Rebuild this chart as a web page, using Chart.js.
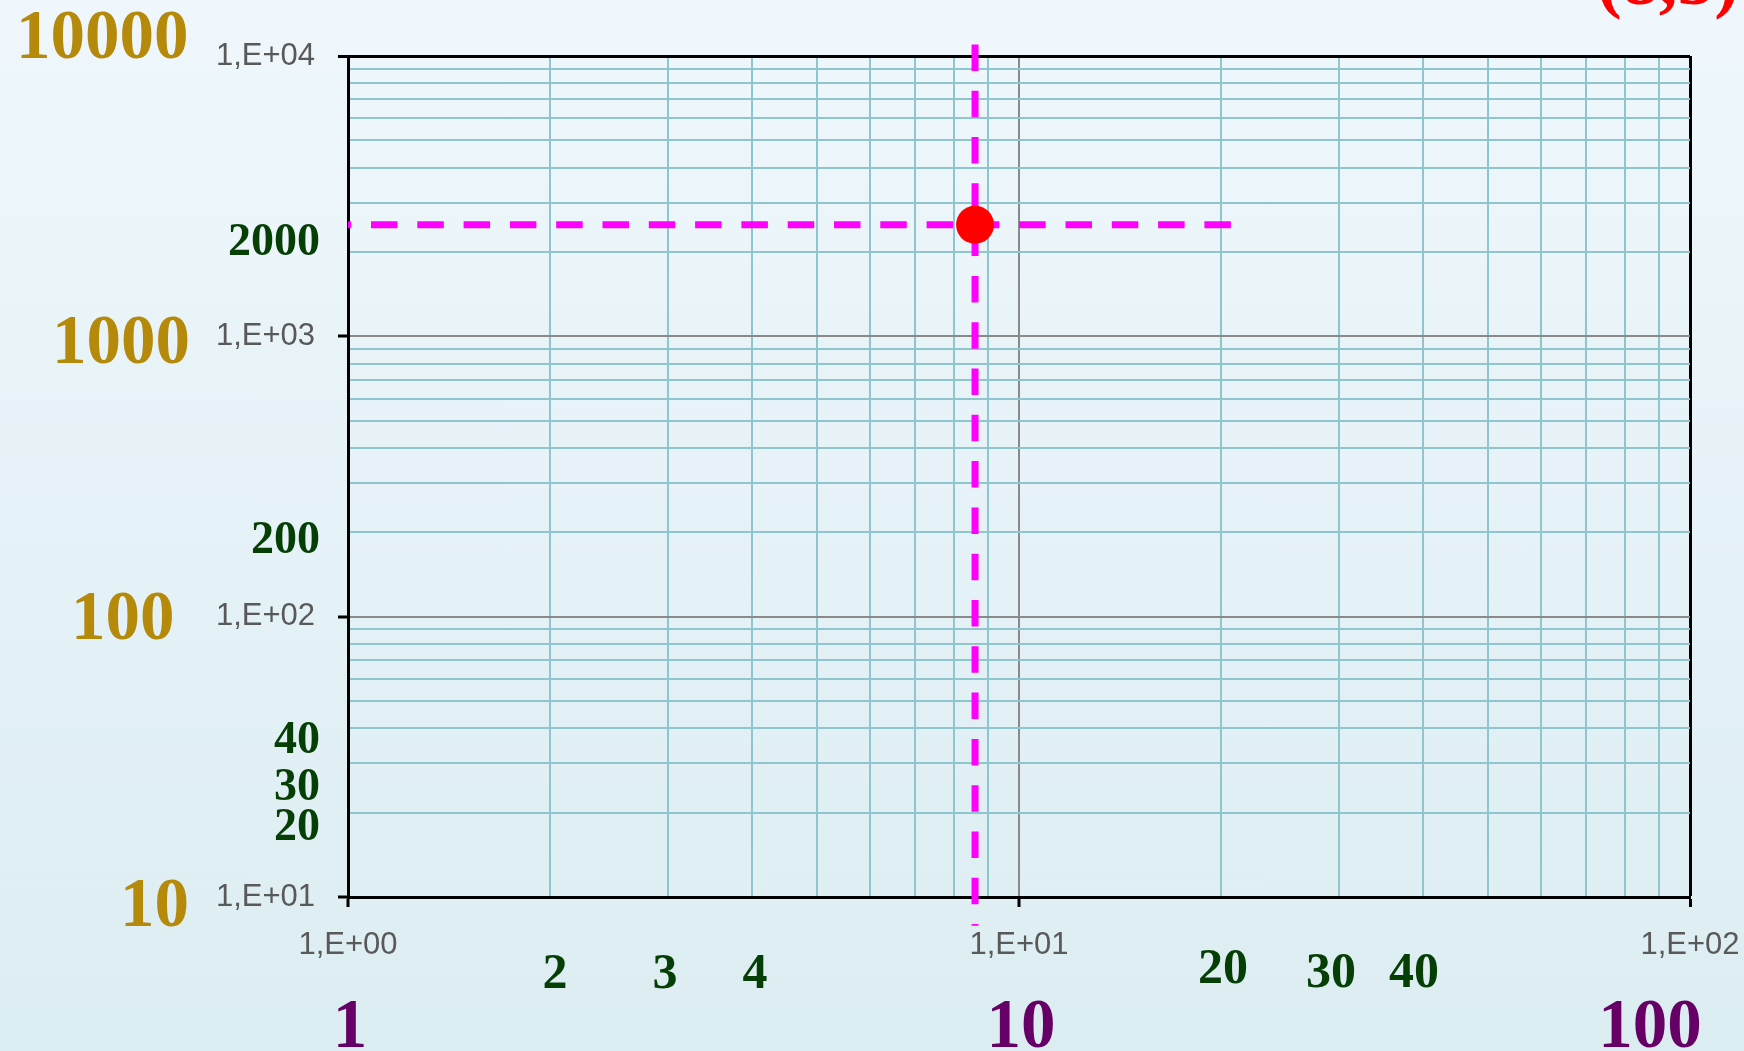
<!DOCTYPE html>
<html>
<head>
<meta charset="utf-8">
<title>Log-log reading chart</title>
<script src="https://cdn.jsdelivr.net/npm/chart.js@4.4.0/dist/chart.umd.min.js"></script>
<style>
  html, body { margin: 0; padding: 0; }
  body {
    width: 1744px;
    height: 1051px;
    overflow: hidden;
    background: linear-gradient(to bottom, #eff7fc 0%, #dcedf2 100%);
  }
  #wrap { position: relative; width: 1744px; height: 1051px; }
</style>
</head>
<body>
<div id="wrap"><canvas id="chart"></canvas></div>
<script>
// log-log axes
const xRange = [1, 100];
const yRange = [10, 10000];
const gridSteps = [1, 2, 3, 4, 5, 6, 7, 8, 9];

// the point being read and its guide lines
const pointX = [8.6];
const pointY = [2500];
const hGuideX = [1, 21];
const vGuideY = [11000, 7.9];

// annotation texts
const yDecadeLabels = ['10000', '1000', '100', '10'];
const yHelperLabels = ['2000', '200', '40', '30', '20'];
const xHelperLabels = ['2', '3', '4', '20', '30', '40'];
const xDecadeLabels = ['1', '10', '100'];
const cornerLabel = '(8,5)';

// where the annotation texts sit (canvas px)
const labelLayout = {
  yDecadeLeft: [16, 52, 71, 120],
  yDecadeBase: [58, 363, 639, 926],
  yHelperRight: 320,
  yHelperBase: [255, 553, 753, 800, 840],
  xHelperCenter: [555, 665, 755, 1223, 1331, 1414],
  xHelperBase: [988, 988, 988, 983, 987, 987],
  xDecadeCenter: [350, 1021, 1650],
  xDecadeBase: 1047,
  corner: [1597, 4]
};

const isDecade = v => Math.abs(Math.log10(v) - Math.round(Math.log10(v))) < 1e-9;

function logTicks(range) {
  const out = [];
  for (let d = range[0]; d < range[1]; d *= 10) {
    gridSteps.forEach(s => out.push(s * d));
  }
  out.push(range[1]);
  return out;
}

function sciLabel(v) {
  if (!isDecade(v)) return '';
  return '1,E+' + String(Math.round(Math.log10(v))).padStart(2, '0');
}

function gridColor(range) {
  return ctx => {
    const v = ctx.tick.value;
    if (v === range[1]) return '#000000';
    return isDecade(v) ? '#8a8a8a' : '#8fc6cd';
  };
}

function gridWidth(range) {
  return ctx => (ctx.tick.value === range[1] ? 3 : 2);
}

const tickFont = { family: "'Liberation Sans Narrow', 'Liberation Sans', sans-serif", size: 31 };

const overlayText = {
  id: 'overlayText',
  afterDraw(chart) {
    const ctx = chart.ctx;
    const serif = size => "bold " + size + "px 'Liberation Serif', 'Times New Roman', serif";
    ctx.save();
    ctx.textBaseline = 'alphabetic';

    ctx.font = serif(69);
    ctx.fillStyle = '#b5890a';
    ctx.textAlign = 'left';
    yDecadeLabels.forEach((t, i) => {
      ctx.fillText(t, labelLayout.yDecadeLeft[i], labelLayout.yDecadeBase[i]);
    });

    ctx.fillStyle = '#063f06';
    ctx.font = serif(46);
    ctx.textAlign = 'right';
    yHelperLabels.forEach((t, i) => {
      ctx.fillText(t, labelLayout.yHelperRight, labelLayout.yHelperBase[i]);
    });

    ctx.font = serif(50);
    ctx.textAlign = 'center';
    xHelperLabels.forEach((t, i) => {
      ctx.fillText(t, labelLayout.xHelperCenter[i], labelLayout.xHelperBase[i]);
    });

    ctx.font = serif(69);
    ctx.fillStyle = '#660066';
    xDecadeLabels.forEach((t, i) => {
      ctx.fillText(t, labelLayout.xDecadeCenter[i], labelLayout.xDecadeBase);
    });

    ctx.font = serif(74);
    ctx.fillStyle = '#ff0000';
    ctx.textAlign = 'left';
    ctx.fillText(cornerLabel, labelLayout.corner[0], labelLayout.corner[1]);
    ctx.restore();
  }
};

const guideStyle = {
  showLine: true,
  borderColor: '#ff00ff',
  borderWidth: 7,
  borderDash: [26.5, 19.8],
  pointRadius: 0,
  pointHoverRadius: 0,
  fill: false
};

new Chart(document.getElementById('chart'), {
  type: 'scatter',
  data: {
    datasets: [
      {
        label: 'point',
        data: pointX.map((x, i) => ({ x, y: pointY[i] })),
        pointRadius: 19,
        pointHoverRadius: 19,
        backgroundColor: '#ff0000',
        borderWidth: 0
      },
      {
        label: 'hGuide',
        data: hGuideX.map(x => ({ x, y: pointY[0] })),
        ...guideStyle,
        borderDashOffset: 23.3
      },
      {
        label: 'vGuide',
        data: vGuideY.map(y => ({ x: pointX[0], y })),
        ...guideStyle,
        borderDashOffset: 0,
        clip: false
      }
    ]
  },
  options: {
    responsive: true,
    maintainAspectRatio: false,
    animation: false,
    layout: { padding: { top: 56, right: 54, left: 0, bottom: 0 } },
    plugins: {
      legend: { display: false },
      tooltip: { enabled: false }
    },
    scales: {
      x: {
        type: 'logarithmic',
        min: xRange[0],
        max: xRange[1],
        afterBuildTicks: scale => { scale.ticks = logTicks(xRange).map(value => ({ value })); },
        afterFit: scale => {
          scale.height = 154;
          scale.paddingLeft = 0;
          scale.paddingRight = 0;
        },
        ticks: {
          autoSkip: false,
          maxRotation: 0,
          padding: 20,
          color: '#595959',
          font: tickFont,
          callback: v => sciLabel(v)
        },
        grid: {
          color: gridColor(xRange),
          lineWidth: gridWidth(xRange),
          tickLength: 10,
          tickWidth: 3,
          tickColor: ctx => (isDecade(ctx.tick.value) ? '#000000' : 'rgba(0,0,0,0)')
        },
        border: { display: true, color: '#000000', width: 3 }
      },
      y: {
        type: 'logarithmic',
        min: yRange[0],
        max: yRange[1],
        afterBuildTicks: scale => { scale.ticks = logTicks(yRange).map(value => ({ value })); },
        afterFit: scale => {
          scale.width = 348;
          scale.paddingTop = 0;
          scale.paddingBottom = 0;
        },
        ticks: {
          autoSkip: false,
          padding: 23,
          color: '#595959',
          font: tickFont,
          callback: v => sciLabel(v)
        },
        grid: {
          color: gridColor(yRange),
          lineWidth: gridWidth(yRange),
          tickLength: 10,
          tickWidth: 3,
          tickColor: ctx => (isDecade(ctx.tick.value) ? '#000000' : 'rgba(0,0,0,0)')
        },
        border: { display: true, color: '#000000', width: 3 }
      }
    }
  },
  plugins: [overlayText]
});
</script>
</body>
</html>
